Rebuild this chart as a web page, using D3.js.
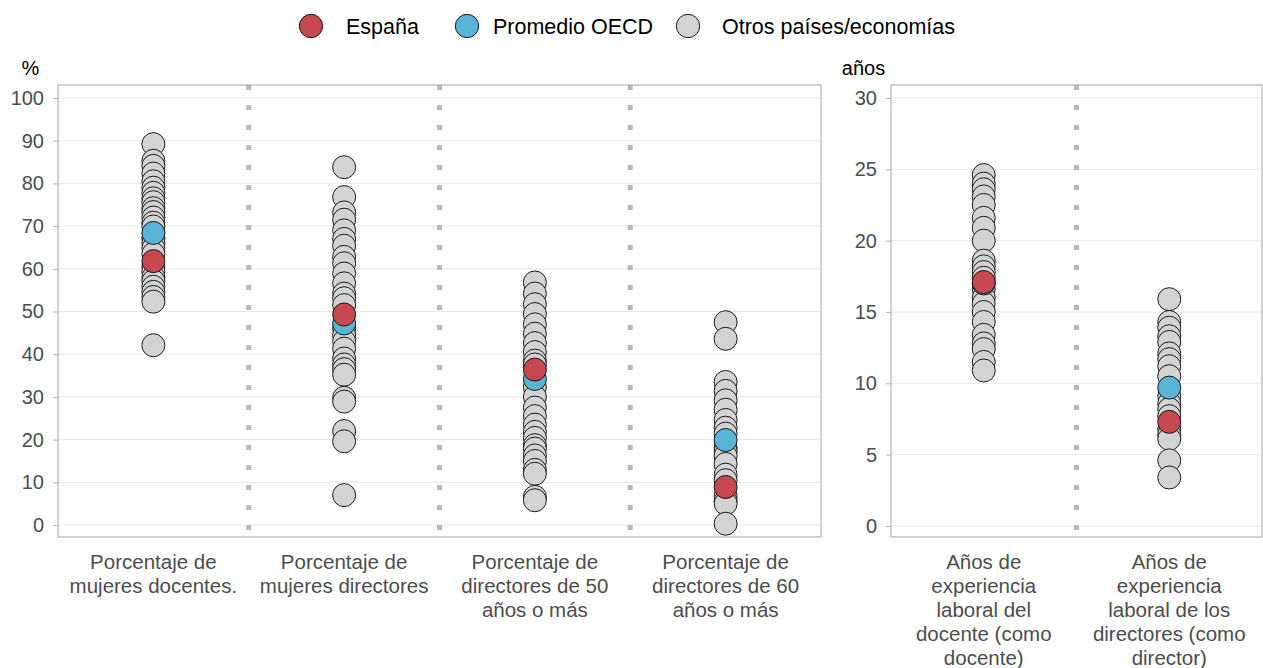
<!DOCTYPE html>
<html lang="es">
<head>
    <meta charset="utf-8">
    <title>TALIS - docentes y directores</title>
    <script src="https://d3js.org/d3.v7.min.js"></script>
    <style>
        body { margin: 0; background: #fff; }
        svg text { font-family: "Liberation Sans", Arial, sans-serif; }
    </style>
</head>
<body>
<script>
    // categorias de cada panel
    const leftCats = [
        ["Porcentaje de", "mujeres docentes."],
        ["Porcentaje de", "mujeres directores"],
        ["Porcentaje de", "directores de 50", "años o más"],
        ["Porcentaje de", "directores de 60", "años o más"]
    ];
    const rightCats = [
        ["Años de", "experiencia", "laboral del", "docente (como", "docente)"],
        ["Años de", "experiencia", "laboral de los", "directores (como", "director)"]
    ];

    // otros paises / economias
    const otrosLeft = [
        [89.2, 85.3, 84.1, 82.3, 80.5, 79.0, 77.8, 76.5, 75.6, 74.2, 73.3, 72.0, 70.8, 69.9, 67.2, 66.0, 64.8, 63.5, 60.5, 59.4, 58.0, 57.1, 55.8, 54.6, 53.4, 52.3, 42.1],
        [83.8, 76.8, 73.2, 71.5, 69.0, 67.0, 65.4, 62.8, 61.3, 58.9, 56.6, 54.2, 53.1, 51.5, 46.0, 44.5, 43.0, 41.3, 39.0, 37.6, 36.5, 35.2, 29.8, 28.9, 22.0, 19.6, 7.0],
        [56.8, 54.2, 51.7, 49.4, 47.0, 44.8, 42.6, 40.5, 38.5, 37.6, 32.3, 30.0, 27.5, 25.5, 23.5, 21.8, 20.4, 18.7, 17.9, 16.3, 15.0, 12.9, 12.0, 6.6, 5.8],
        [47.5, 43.6, 33.5, 31.4, 29.2, 27.0, 24.6, 22.8, 21.4, 18.0, 17.3, 16.2, 14.3, 11.8, 10.5, 6.7, 5.6, 5.0, 0.3]
    ];
    const otrosRight = [
        [24.6, 24.0, 23.6, 23.1, 22.5, 21.6, 20.9, 20.0, 18.6, 18.2, 17.8, 17.4, 16.6, 16.0, 15.6, 15.0, 14.3, 13.4, 12.8, 12.4, 11.5, 10.9],
        [15.9, 14.3, 13.9, 13.3, 12.9, 12.1, 11.7, 11.2, 10.5, 9.1, 8.6, 8.2, 7.7, 6.8, 6.4, 6.1, 4.6, 3.4]
    ];
    const oecdLeft   = [68.4, 47.2, 34.2, 19.9];
    const espanaLeft = [61.8, 49.3, 36.4, 8.9];
    const oecdRight   = [17.0, 9.7];
    const espanaRight = [17.1, 7.3];

    const leftTicks  = [0, 10, 20, 30, 40, 50, 60, 70, 80, 90, 100];
    const rightTicks = [0, 5, 10, 15, 20, 25, 30];

    const legendItems = [
        { label: "España", color: "#c7474f" },
        { label: "Promedio OECD", color: "#5ab4d5" },
        { label: "Otros países/economías", color: "#d3d3d3" }
    ];

    const W = 1263, H = 668;
    const panelTop = 85, panelBottom = 537;
    const r = 11.5;

    const svg = d3.select("body").append("svg")
        .attr("width", W).attr("height", H);

    // legend
    const legCircle = [311, 467, 688];
    const legText   = [346, 493, 722];
    const leg = svg.append("g");
    legendItems.forEach((d, i) => {
        leg.append("circle")
            .attr("cx", legCircle[i]).attr("cy", 26).attr("r", 11.7)
            .attr("fill", d.color).attr("stroke", "#1a1a1a").attr("stroke-width", 1);
        leg.append("text")
            .attr("x", legText[i]).attr("y", 33.5)
            .attr("font-size", 21.5).attr("fill", "#000")
            .text(d.label);
    });

    function panel(x0, x1, cats, yScale, ticks, unit, otros, oecd, espana) {
        const g = svg.append("g");
        const x = d3.scaleBand().domain(d3.range(cats.length)).range([x0, x1]);

        // grid
        g.selectAll(".grid").data(ticks).enter().append("line")
            .attr("x1", x0).attr("x2", x1)
            .attr("y1", d => yScale(d)).attr("y2", d => yScale(d))
            .attr("stroke", "#e6e6e6").attr("stroke-width", 1);

        // dotted separators
        g.selectAll(".sep").data(d3.range(1, cats.length)).enter().append("line")
            .attr("x1", d => x(d)).attr("x2", d => x(d))
            .attr("y1", panelTop).attr("y2", panelBottom)
            .attr("stroke", "#b8b8b8").attr("stroke-width", 5)
            .attr("stroke-dasharray", "5,15");

        // border
        g.append("rect")
            .attr("x", x0).attr("y", panelTop)
            .attr("width", x1 - x0).attr("height", panelBottom - panelTop)
            .attr("fill", "none").attr("stroke", "#b3b3b3").attr("stroke-width", 1.2);

        // y axis
        const yAxis = g.append("g")
            .attr("transform", `translate(${x0},0)`)
            .call(d3.axisLeft(yScale).tickValues(ticks).tickSize(5).tickPadding(9));
        yAxis.select(".domain").remove();
        yAxis.selectAll("line").attr("stroke", "#b3b3b3");
        yAxis.selectAll("text").attr("font-size", 20).attr("fill", "#4d4d4d")
            .attr("font-family", "Liberation Sans, Arial, sans-serif");

        g.append("text")
            .attr("x", x0 - 27.5).attr("y", 75)
            .attr("text-anchor", "middle").attr("font-size", 20).attr("fill", "#000")
            .text(unit);

        // x labels
        cats.forEach((lines, i) => {
            const t = g.append("text")
                .attr("x", x(i) + x.bandwidth() / 2).attr("y", 569)
                .attr("text-anchor", "middle").attr("font-size", 20.5).attr("fill", "#4d4d4d");
            lines.forEach((l, j) => {
                t.append("tspan").attr("x", x(i) + x.bandwidth() / 2)
                    .attr("dy", j === 0 ? 0 : 24).text(l);
            });
        });

        const cx = i => x(i) + x.bandwidth() / 2;

        // points
        otros.forEach((vals, i) => {
            g.selectAll(null).data(vals).enter().append("circle")
                .attr("cx", cx(i)).attr("cy", d => yScale(d)).attr("r", r)
                .attr("fill", "#d3d3d3").attr("stroke", "#1a1a1a").attr("stroke-width", 1);
        });
        g.selectAll(null).data(oecd).enter().append("circle")
            .attr("cx", (d, i) => cx(i)).attr("cy", d => yScale(d)).attr("r", r)
            .attr("fill", "#5ab4d5").attr("stroke", "#1a1a1a").attr("stroke-width", 1);
        g.selectAll(null).data(espana).enter().append("circle")
            .attr("cx", (d, i) => cx(i)).attr("cy", d => yScale(d)).attr("r", r)
            .attr("fill", "#c7474f").attr("stroke", "#1a1a1a").attr("stroke-width", 1);
    }

    const yLeft = d3.scaleLinear().domain([0, 100]).range([525, 98]);
    const yRight = d3.scaleLinear().domain([0, 30]).range([526, 98]);

    panel(58, 821, leftCats, yLeft, leftTicks, "%", otrosLeft, oecdLeft, espanaLeft);
    panel(891, 1262, rightCats, yRight, rightTicks, "años", otrosRight, oecdRight, espanaRight);
</script>
</body>
</html>
